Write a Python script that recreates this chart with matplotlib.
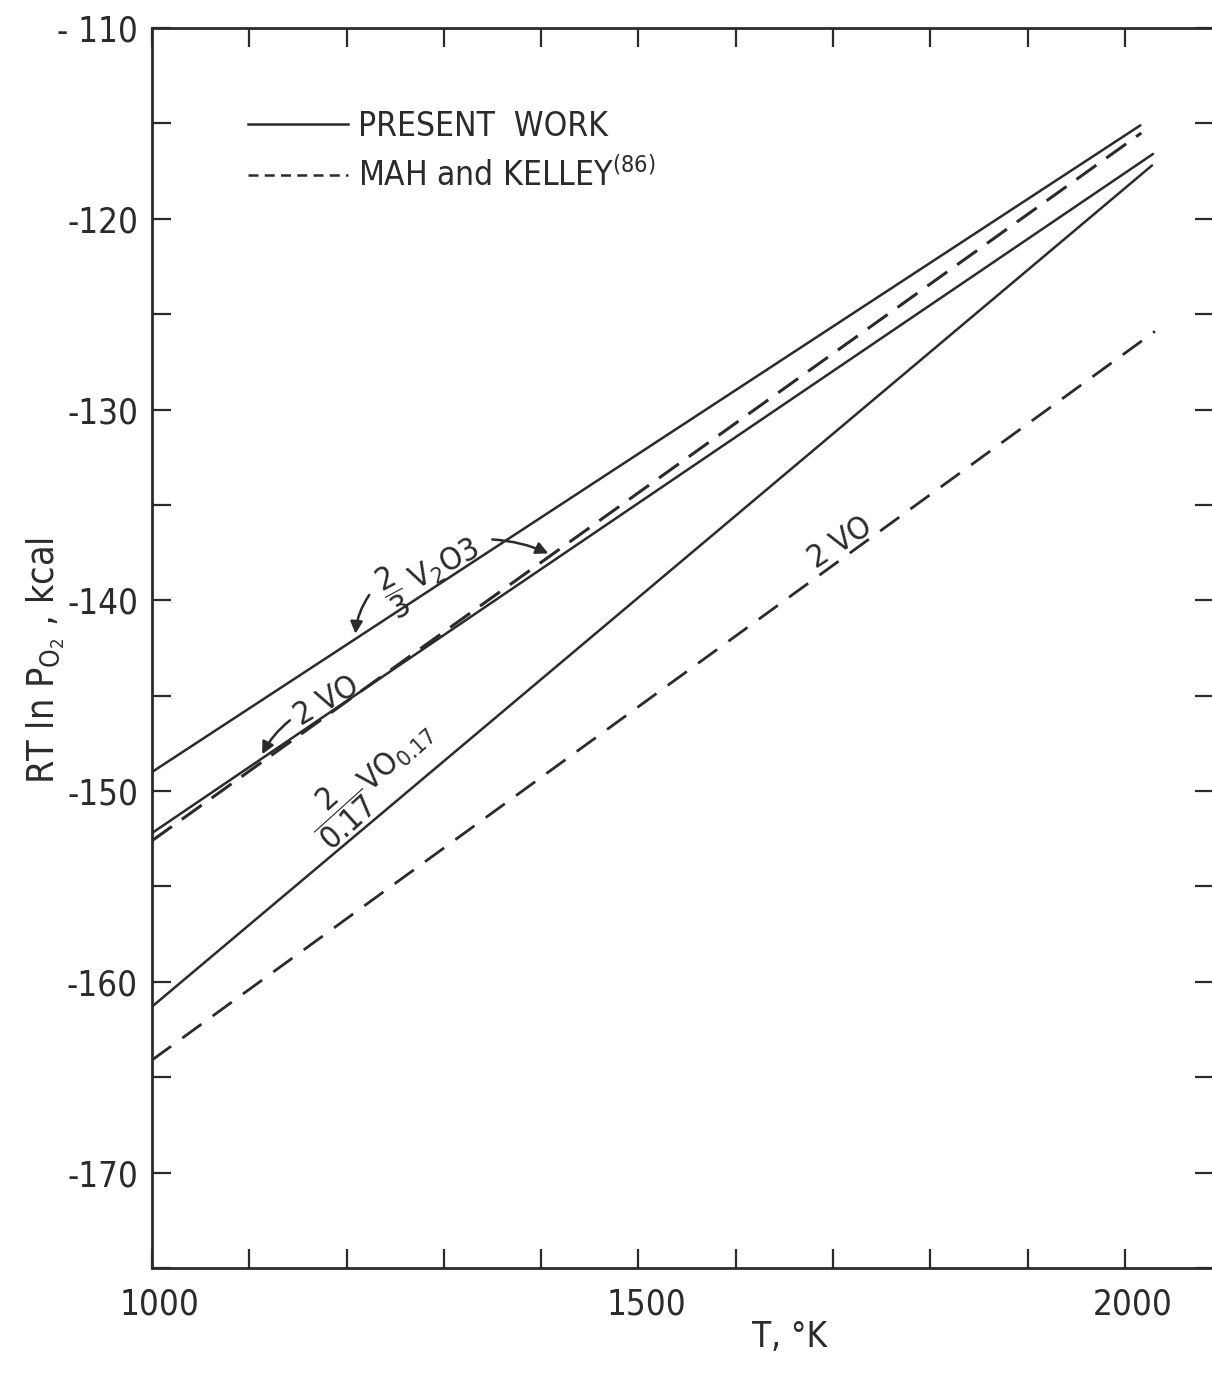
import matplotlib
matplotlib.use("Agg")
import matplotlib.pyplot as plt
import matplotlib.transforms as mtransforms
from matplotlib.lines import Line2D

plt.rcParams['font.family'] = ['DejaVu Sans']
plt.rcParams['font.stretch'] = 'condensed'
plt.rcParams['mathtext.fontset'] = 'dejavusans'
plt.rcParams['axes.unicode_minus'] = False

# Temperature end points (K) and RT ln pO2 (kcal) for each equilibrium line
t_v2o3_pw = [1000, 2016]
g_v2o3_pw = [-149.0, -115.1]

t_vo_pw = [1000, 2029]
g_vo_pw = [-152.2, -116.6]

t_vo017_pw = [1000, 2028]
g_vo017_pw = [-161.3, -117.2]

t_v2o3_mk = [1000, 2017]
g_v2o3_mk = [-152.6, -115.5]

t_vo_mk = [1000, 2031]
g_vo_mk = [-164.1, -125.9]

x_ticks = [1000, 1500, 2000]
x_minor = list(range(1000, 2100, 100))
y_ticks = [-110, -120, -130, -140, -150, -160, -170]
y_tick_labels = ['- 110', '-120', '-130', '-140', '-150', '-160', '-170']
y_minor = list(range(-175, -105, 5))

ink = '#2b2b2b'
fig = plt.figure(figsize=(12.12, 13.75), dpi=100)
ax = fig.add_axes([0.1254, 0.0778, 0.8765, 0.9018])

lw = 1.8
ax.plot(t_v2o3_pw, g_v2o3_pw, color=ink, lw=lw, solid_capstyle='round')
ax.plot(t_vo_pw, g_vo_pw, color=ink, lw=lw, solid_capstyle='round')
ax.plot(t_vo017_pw, g_vo017_pw, color=ink, lw=lw, solid_capstyle='round')
ax.plot(t_v2o3_mk, g_v2o3_mk, color=ink, lw=2.2, dashes=(8, 4))
ax.plot(t_vo_mk, g_vo_mk, color=ink, lw=2.0, dashes=(8.5, 5))

ax.set_xlim(1000, 2092)
ax.set_ylim(-175, -110)

ax.set_xticks(x_ticks)
ax.set_xticks(x_minor, minor=True)
ax.set_xticklabels([str(v) for v in x_ticks])
ax.set_yticks(y_ticks)
ax.set_yticklabels(y_tick_labels)
ax.set_yticks(y_minor, minor=True)
ax.tick_params(which='both', direction='in', top=True, right=True,
               length=14, width=1.6, color=ink, labelsize=25, labelcolor=ink)
ax.tick_params(axis='x', which='major', pad=14)
ax.tick_params(axis='y', which='major', pad=10)
shift = mtransforms.ScaledTranslation(8 / 100, 0, fig.dpi_scale_trans)
for lab in ax.get_xticklabels():
    lab.set_transform(lab.get_transform() + shift)
for s in ax.spines.values():
    s.set_linewidth(2.0)
    s.set_color(ink)

ax.set_xlabel('T, °K', fontsize=25, color=ink)
ax.xaxis.set_label_coords(0.60, -0.056)
ax.xaxis.label.set_va('center')
ax.set_ylabel(r'RT ln P$_{\mathrm{O}_2}$ , kcal', fontsize=27, color=ink)
ax.yaxis.set_label_coords(-0.100, 0.49)
ax.yaxis.label.set_va('center')

# legend
handles = [Line2D([], [], color=ink, lw=lw),
           Line2D([], [], color=ink, lw=lw, dashes=(4, 2.5))]
labels = ['PRESENT  WORK', r'MAH and KELLEY$^{(86)}$']
leg = ax.legend(handles, labels, loc='upper left', bbox_to_anchor=(0.09, 0.934),
                frameon=False, fontsize=24, handlelength=3.0, handletextpad=0.3,
                labelspacing=0.45, borderpad=0, borderaxespad=0)
for t in leg.get_texts():
    t.set_color(ink)

# curve labels
fs = 23
arrow_kw = dict(arrowstyle='-|>', color=ink, lw=1.8, mutation_scale=18)
ax.text(1286, -138.5, r'$\dfrac{2}{3}$ V$_2$O3', fontsize=fs, color=ink,
        rotation=28, ha='center', va='center', rotation_mode='anchor')
ax.annotate('', xy=(1209, -141.9), xytext=(1225, -139.6),
            arrowprops=dict(connectionstyle='arc3,rad=0.15', **arrow_kw))
ax.annotate('', xy=(1410, -137.6), xytext=(1347, -136.8),
            arrowprops=dict(connectionstyle='arc3,rad=-0.1', **arrow_kw))

ax.text(1180, -145.3, '2 VO', fontsize=fs, color=ink, rotation=30,
        ha='center', va='center', rotation_mode='anchor')
ax.annotate('', xy=(1112, -148.2), xytext=(1144, -146.2),
            arrowprops=dict(connectionstyle='arc3,rad=0.12', **arrow_kw))

ax.text(1225, -149.4, r'$\dfrac{2}{0.17}$VO$_{0.17}$', fontsize=fs, color=ink,
        rotation=42, ha='center', va='center', rotation_mode='anchor')

ax.text(1708, -137.0, '2 VO', fontsize=fs, color=ink, rotation=33,
        ha='center', va='center', rotation_mode='anchor')

fig.savefig('out.png', dpi=100)
